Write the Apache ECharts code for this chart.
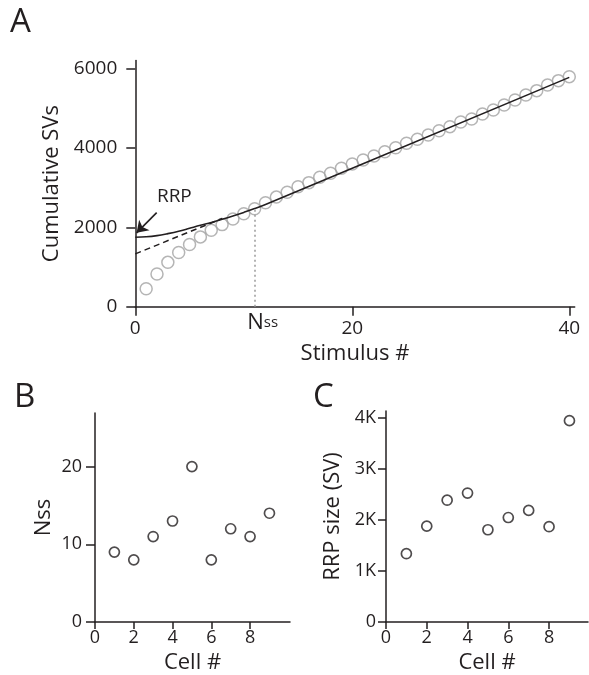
<!DOCTYPE html>
<html><head><meta charset="utf-8">
<script src="https://cdn.jsdelivr.net/npm/echarts@6/dist/echarts.min.js"></script>
<style>html,body{margin:0;padding:0;background:#fff}#c{width:589px;height:675px}</style>
</head><body><div id="c"></div>
<script>
// ---- Panel A data ----
const stimulus = [1,2,3,4,5,6,7,8,9,10,11,12,13,14,15,16,17,18,19,20,21,22,23,24,25,26,27,28,29,30,31,32,33,34,35,36,37,38,39,40];
const cumulativeSVs = [450,825,1117,1367,1567,1758,1925,2067,2208,2342,2467,2617,2760,2880,3020,3124,3259,3360,3486,3594,3695,3796,3904,4005,4116,4217,4325,4433,4534,4652,4728,4854,4955,5081,5207,5333,5441,5584,5693,5793];
const fitCurveX = [0,1,2,3,4,5,6,7,8,9,10,11,12,40];
const fitCurveY = [1748,1760,1790,1840,1900,1975,2050,2120,2200,2285,2375,2470,2575,5775];
const linearFitX = [0,8];
const linearFitY = [1330,2220];
const nssStimulus = 11;
const nssLevel = 2470;
const aXTicks = [0,20,40];
const aYTicks = [0,2000,4000,6000];
// ---- Panel B / C data ----
const cellNumbers = [1,2,3,4,5,6,7,8,9];
const nssValues = [9,8,11,13,20,8,12,11,14];
const rrpSizes = [1340,1880,2390,2530,1810,2050,2190,1870,3950];
const cellTicks = [0,2,4,6,8];
const bYTicks = [0,10,20];
const cYTicks = [0,1000,2000,3000,4000];

const FONT = 'Open Sans';
const INK = '#231f20';
const pairs = (xs, ys) => xs.map((x, i) => [x, ys[i]]);
const plain = v => String(v);

const axisLine = {show: true, onZero: false, lineStyle: {color: INK, width: 1.5}};
const axisTick = (vals, len) => ({show: true, inside: false, length: len, customValues: vals, lineStyle: {color: INK, width: 1.5}});
const axisLabel = (vals, size, margin, fmt) => ({show: true, customValues: vals, fontFamily: FONT, fontSize: size, color: INK, margin: margin, formatter: fmt || plain});
const nameStyle = {fontFamily: FONT, fontSize: 22, color: INK};

const chart = echarts.init(document.getElementById('c'), null, {renderer: 'canvas'});
chart.setOption({
  animation: false,
  backgroundColor: '#fff',
  textStyle: {fontFamily: FONT},
  graphic: [
    {type: 'text', left: 10, top: 6, style: {text: 'A', fontFamily: FONT, fontSize: 33, fill: INK}},
    {type: 'text', left: 14, top: 381, style: {text: 'B', fontFamily: FONT, fontSize: 33, fill: INK}},
    {type: 'text', left: 313, top: 381, style: {text: 'C', fontFamily: FONT, fontSize: 33, fill: INK}}
  ],
  grid: [
    {left: 135.3, top: 60.5, width: 439.4, height: 246.2},
    {left: 95, top: 413, width: 195, height: 211},
    {left: 386, top: 411, width: 202, height: 213}
  ],
  xAxis: [
    {gridIndex: 0, type: 'value', min: 0, max: 40.5, name: 'Stimulus #', nameLocation: 'middle', nameGap: 36, nameTextStyle: nameStyle,
     axisLine: axisLine, axisTick: axisTick(aXTicks, 9), axisLabel: axisLabel(aXTicks, 19, 12), splitLine: {show: false}},
    {gridIndex: 1, type: 'value', min: 0, max: 10.06, name: 'Cell #', nameLocation: 'middle', nameGap: 30, nameTextStyle: nameStyle,
     axisLine: axisLine, axisTick: axisTick(cellTicks, 7), axisLabel: axisLabel(cellTicks, 18, 7), splitLine: {show: false}},
    {gridIndex: 2, type: 'value', min: 0, max: 9.91, name: 'Cell #', nameLocation: 'middle', nameGap: 30, nameTextStyle: nameStyle,
     axisLine: axisLine, axisTick: axisTick(cellTicks, 7), axisLabel: axisLabel(cellTicks, 18, 7), splitLine: {show: false}}
  ],
  yAxis: [
    {gridIndex: 0, type: 'value', min: 0, max: 6200, name: 'Cumulative SVs', nameLocation: 'middle', nameGap: 72, nameTextStyle: nameStyle,
     axisLine: axisLine, axisTick: axisTick(aYTicks, 9), axisLabel: axisLabel(aYTicks, 19, 18), splitLine: {show: false}},
    {gridIndex: 1, type: 'value', min: 0, max: 26.9, name: 'Nss', nameLocation: 'middle', nameGap: 40, nameTextStyle: nameStyle,
     axisLine: axisLine, axisTick: axisTick(bYTicks, 9), axisLabel: axisLabel(bYTicks, 18, 13), splitLine: {show: false}},
    {gridIndex: 2, type: 'value', min: 0, max: 4140, name: 'RRP size (SV)', nameLocation: 'middle', nameGap: 42, nameTextStyle: nameStyle,
     axisLine: axisLine, axisTick: axisTick(cYTicks, 8), axisLabel: axisLabel(cYTicks, 18, 10, v => v === 0 ? '0' : (v / 1000) + 'K'), splitLine: {show: false}}
  ],
  series: [
    {type: 'line', xAxisIndex: 0, yAxisIndex: 0, data: pairs(linearFitX, linearFitY), showSymbol: false, symbol: 'none',
     lineStyle: {color: INK, width: 1.5, type: [6, 4]}, z: 3},
    {type: 'line', xAxisIndex: 0, yAxisIndex: 0, data: pairs(fitCurveX, fitCurveY), smooth: 0.4, showSymbol: false, symbol: 'none',
     lineStyle: {color: INK, width: 1.6}, z: 4,
     markLine: {silent: true, symbol: ['none', 'none'], animation: false,
       data: [[{coord: [nssStimulus, 0]}, {coord: [nssStimulus, nssLevel]}]],
       lineStyle: {color: '#9a9a9a', width: 1.5, type: [2, 3]},
       label: {show: true, position: 'start', distance: 5, offset: [8, 0], formatter: '{n|N}{s|ss}',
         rich: {n: {fontFamily: FONT, fontSize: 22, color: INK}, s: {fontFamily: FONT, fontSize: 15, color: INK}}}},
     markPoint: {silent: true, symbol: 'circle', symbolSize: 0,
       data: [{coord: [3.6, 2770], label: {show: true, position: 'inside', formatter: 'RRP', fontFamily: FONT, fontSize: 19, color: INK}}]}
    },
    {type: 'line', xAxisIndex: 0, yAxisIndex: 0, data: [], showSymbol: false,
     markLine: {silent: true, symbol: ['none', 'arrow'], symbolSize: 11,
       data: [[{coord: [1.97, 2370]}, {coord: [0.12, 1860]}]],
       lineStyle: {color: INK, width: 1.6, type: 'solid'}, label: {show: false}}},
    {type: 'scatter', xAxisIndex: 0, yAxisIndex: 0, data: pairs(stimulus, cumulativeSVs), symbol: 'circle', symbolSize: 12,
     itemStyle: {color: 'rgba(255,255,255,0)', borderColor: '#a3a3a3', borderWidth: 1.5}, z: 2},
    {type: 'scatter', xAxisIndex: 1, yAxisIndex: 1, data: pairs(cellNumbers, nssValues), symbol: 'circle', symbolSize: 10,
     itemStyle: {color: '#fff', borderColor: INK, borderWidth: 1.7}},
    {type: 'scatter', xAxisIndex: 2, yAxisIndex: 2, data: pairs(cellNumbers, rrpSizes), symbol: 'circle', symbolSize: 10,
     itemStyle: {color: '#fff', borderColor: INK, borderWidth: 1.7}}
  ]
});
</script>
</body></html>
